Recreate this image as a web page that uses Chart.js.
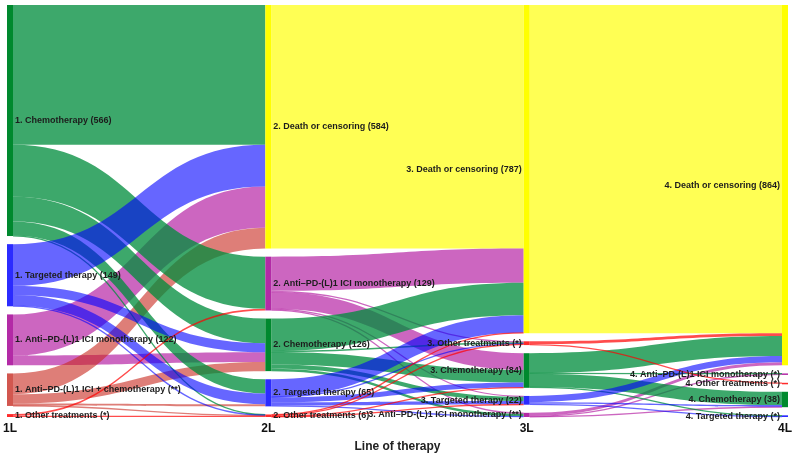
<!DOCTYPE html>
<html>
<head>
<meta charset="utf-8">
<script src="https://cdn.jsdelivr.net/npm/chart.js@4.4.1/dist/chart.umd.min.js"></script>
<style>
  html, body { margin: 0; padding: 0; background: #fff; }
</style>
</head>
<body>
<canvas id="sankey" width="798" height="458"></canvas>
<script>
// ---------- data ----------
const stageLabels = ['1L', '2L', '3L', '4L'];

// node order in each line of therapy, top to bottom
const nodes1L = ['chemo', 'targeted', 'antipd', 'combo', 'other'];
const nodes2L = ['death', 'antipd', 'chemo', 'targeted', 'other'];
const nodes3L = ['death', 'other', 'chemo', 'targeted', 'antipd'];
const nodes4L = ['death', 'antipd', 'other', 'chemo', 'targeted'];

const labels1L = ['1. Chemotherapy (566)', '1. Targeted therapy (149)', '1. Anti\u2013PD-(L)1 ICI monotherapy (122)',
  '1. Anti\u2013PD-(L)1 ICI + chemotherapy (**)', '1. Other treatments (*)'];
const labels2L = ['2. Death or censoring (584)', '2. Anti\u2013PD-(L)1 ICI monotherapy (129)', '2. Chemotherapy (126)',
  '2. Targeted therapy (65)', '2. Other treatments (6)'];
const labels3L = ['3. Death or censoring (787)', '3. Other treatments (*)', '3. Chemotherapy (84)',
  '3. Targeted therapy (22)', '3. Anti\u2013PD-(L)1 ICI monotherapy (**)'];
const labels4L = ['4. Death or censoring (864)', '4. Anti\u2013PD-(L)1 ICI monotherapy (*)', '4. Other treatments (*)',
  '4. Chemotherapy (38)', '4. Targeted therapy (*)'];

// [source node index, target node index, patients]
const flows1Lto2L = [
  [0,0,335],[0,1,125],[0,2,59],[0,3,34],[0,4,1],
  [1,0,100],[1,2,22],[1,3,26],[1,4,1],
  [2,0,99],[2,2,23],
  [3,0,50],[3,2,22],[3,3,5],[3,4,1],
  [4,1,4],[4,4,3]
];
const flows2Lto3L = [
  [0,0,584],
  [1,0,82],[1,1,3],[1,2,40],[1,3,2],[1,4,2],
  [2,0,78],[2,1,2],[2,2,30],[2,3,10],[2,4,6],
  [3,0,42],[3,1,1],[3,2,12],[3,3,8],[3,4,2],
  [4,0,1],[4,1,3],[4,2,1],[4,3,1]
];
const flows3Lto4L = [
  [0,0,787],
  [1,0,7],[1,2,2],
  [2,0,48],[2,1,1],[2,3,32],[2,4,2],
  [3,0,15],[3,3,4],[3,4,2],
  [4,0,7],[4,1,2],[4,3,1]
];

// ---------- styling ----------
const nodeColor = { chemo:'#00892e', targeted:'#2b2bff', antipd:'#b32aa6', combo:'#d2574f', other:'#ff2b2b', death:'#ffff00' };
const linkColor = { chemo:'rgba(0,140,60,0.76)', targeted:'rgba(0,0,255,0.6)', antipd:'rgba(170,0,150,0.6)',
  combo:'rgba(200,40,30,0.6)', other:'rgba(255,0,0,0.7)', death:'rgba(255,255,0,0.67)' };
const drawRank = ['death', 'antipd', 'combo', 'chemo', 'targeted', 'other'];
const YMAX = 988;      // patients + gaps spanning the plot height
const NODE_W = 6;

Chart.defaults.font.family = "'Liberation Sans', Arial, Helvetica, sans-serif";

const columns = [nodes1L, nodes2L, nodes3L, nodes4L];
const columnLabels = [labels1L, labels2L, labels3L, labels4L];
const transitions = [flows1Lto2L, flows2Lto3L, flows3Lto4L];

function layoutNodes() {
  const cols = columns.map(keys => keys.map(key => ({ key, inSum: 0, outSum: 0 })));
  transitions.forEach((flows, t) => flows.forEach(([s, d, v]) => {
    cols[t][s].outSum += v; cols[t + 1][d].inSum += v;
  }));
  cols.forEach(col => {
    col.forEach(n => n.value = Math.max(n.inSum, n.outSum));
    const total = col.reduce((a, n) => a + n.value, 0);
    const gap = (YMAX - total) / (col.length - 1);
    let y = 0;
    col.forEach(n => { n.y0 = y; n.y1 = y + n.value; y = n.y1 + gap; });
  });
  return cols;
}

const sankeyPlugin = {
  id: 'sankeyDraw',
  beforeDatasetsDraw(chart) {
    const { ctx, scales: { x, y } } = chart;
    const cols = layoutNodes();
    const links = [];
    transitions.forEach((flows, t) => flows.forEach(f => {
      links.push({ t, f, src: cols[t][f[0]], tgt: cols[t + 1][f[1]] });
    }));
    // source side ordered by target position, target side by source position
    cols.forEach((col, c) => col.forEach((n, i) => {
      let pos = n.y0;
      links.filter(l => l.t === c && l.f[0] === i).sort((a, b) => a.f[1] - b.f[1])
        .forEach(l => { l.sy0 = pos; pos += l.f[2]; l.sy1 = pos; });
      pos = n.y0;
      links.filter(l => l.t === c - 1 && l.f[1] === i).sort((a, b) => a.f[0] - b.f[0])
        .forEach(l => { l.ty0 = pos; pos += l.f[2]; l.ty1 = pos; });
    }));

    ctx.save();
    links.sort((a, b) => drawRank.indexOf(a.src.key) - drawRank.indexOf(b.src.key));
    links.forEach(l => {
      const x0 = x.getPixelForValue(l.t) + NODE_W / 2;
      const x1 = x.getPixelForValue(l.t + 1) - NODE_W / 2;
      const xm = (x0 + x1) / 2;
      const a0 = y.getPixelForValue(l.sy0), a1 = y.getPixelForValue(l.sy1);
      const b0 = y.getPixelForValue(l.ty0), b1 = y.getPixelForValue(l.ty1);
      ctx.beginPath();
      if (a1 - a0 < 1.3) {
        const am = (a0 + a1) / 2, bm = (b0 + b1) / 2;
        ctx.moveTo(x0, am);
        ctx.bezierCurveTo(xm, am, xm, bm, x1, bm);
        ctx.strokeStyle = linkColor[l.src.key];
        ctx.lineWidth = 1.3;
        ctx.stroke();
        return;
      }
      ctx.moveTo(x0, a0);
      ctx.bezierCurveTo(xm, a0, xm, b0, x1, b0);
      ctx.lineTo(x1, b1);
      ctx.bezierCurveTo(xm, b1, xm, a1, x0, a1);
      ctx.closePath();
      ctx.fillStyle = linkColor[l.src.key];
      ctx.fill();
    });

    // node bars
    cols.forEach((col, c) => col.forEach(n => {
      const top = y.getPixelForValue(n.y0);
      const h = Math.max(y.getPixelForValue(n.y1) - top, 1.5);
      ctx.fillStyle = nodeColor[n.key];
      ctx.fillRect(x.getPixelForValue(c) - NODE_W / 2, top, NODE_W, h);
    }));

    // node labels
    ctx.font = "bold 9px 'Liberation Sans', Arial, sans-serif";
    ctx.fillStyle = '#1c1c1c';
    ctx.textBaseline = 'middle';
    cols.forEach((col, c) => col.forEach((n, i) => {
      const cx = x.getPixelForValue(c);
      const cy = (y.getPixelForValue(n.y0) + y.getPixelForValue(n.y1)) / 2;
      if (c < 2) { ctx.textAlign = 'left'; ctx.fillText(columnLabels[c][i], cx + NODE_W / 2 + 2, cy); }
      else { ctx.textAlign = 'right'; ctx.fillText(columnLabels[c][i], cx - NODE_W / 2 - 2, cy); }
    }));
    ctx.restore();
  }
};

new Chart(document.getElementById('sankey'), {
  type: 'scatter',
  data: { datasets: [] },
  options: {
    responsive: false,
    animation: false,
    layout: { padding: { left: 10, right: 13, top: 5, bottom: 5 } },
    plugins: { legend: { display: false }, tooltip: { enabled: false } },
    scales: {
      x: {
        type: 'linear', min: 0, max: 3,
        afterFit: s => { s.paddingLeft = 0; s.paddingRight = 0; },
        grid: { display: false, drawTicks: false },
        border: { display: false },
        ticks: { stepSize: 1, padding: 6, color: '#111', font: { size: 12, weight: 'bold', lineHeight: 1 },
          maxRotation: 0, autoSkip: false, callback: v => stageLabels[v] },
        title: { display: true, text: 'Line of therapy', color: '#222',
          font: { size: 12, weight: 'bold', lineHeight: 1 }, padding: { top: 0, bottom: 0 } }
      },
      y: { type: 'linear', min: 0, max: YMAX, reverse: true, display: false }
    }
  },
  plugins: [sankeyPlugin]
});
</script>
</body>
</html>
